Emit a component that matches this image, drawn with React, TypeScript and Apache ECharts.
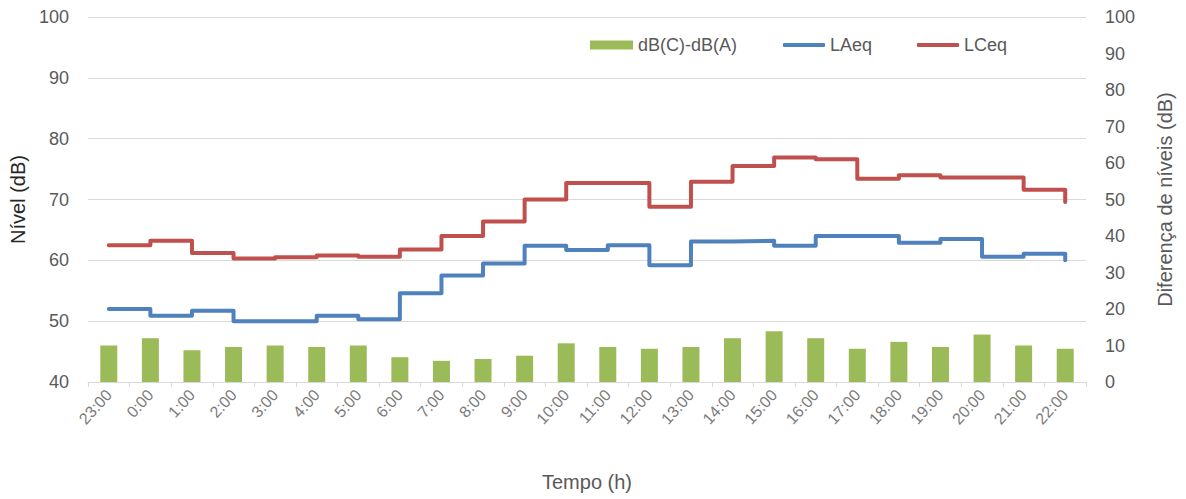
import React, { useEffect, useRef } from "react";
import * as echarts from "echarts";

const categories = ["23:00", "0:00", "1:00", "2:00", "3:00", "4:00", "5:00", "6:00", "7:00", "8:00", "9:00", "10:00", "11:00", "12:00", "13:00", "14:00", "15:00", "16:00", "17:00", "18:00", "19:00", "20:00", "21:00", "22:00"];
const diffValues = [10.0, 12.0, 8.7, 9.6, 10.0, 9.6, 10.0, 6.8, 5.8, 6.3, 7.2, 10.6, 9.6, 9.1, 9.6, 12.0, 13.9, 12.0, 9.1, 11.0, 9.6, 13.0, 10.0, 9.1];
const laeqValues = [52.0, 50.9, 51.7, 50.0, 50.0, 50.9, 50.3, 54.6, 57.5, 59.5, 62.4, 61.7, 62.5, 59.2, 63.1, 63.2, 62.4, 64.0, 64.0, 62.9, 63.5, 60.6, 61.1, 60.0];
const lceqValues = [62.5, 63.2, 61.2, 60.3, 60.5, 60.8, 60.6, 61.8, 64.0, 66.4, 70.0, 72.7, 72.7, 68.8, 72.9, 75.5, 76.9, 76.6, 73.4, 74.0, 73.6, 73.6, 71.6, 69.6];

const FONT = "'Liberation Sans', 'DejaVu Sans', sans-serif";
const TXT = "#595959";
const GRID = "#d9d9d9";

export default function App() {
  const ref = useRef<HTMLDivElement>(null);
  useEffect(() => {
    if (!ref.current) return;
    const chart = echarts.init(ref.current, null, { renderer: "svg" });
    const legendText = { color: TXT, fontSize: 18, fontFamily: FONT };
    chart.setOption({
      animation: false,
      textStyle: { fontFamily: FONT },
      grid: { left: 88, right: 100, top: 17, bottom: 117, containLabel: false },
      legend: [
        { data: [{ name: "dB(C)-dB(A)", icon: "rect" }], left: 590, top: 36, itemWidth: 43, itemHeight: 9, textStyle: legendText, padding: 0 },
        { data: [{ name: "LAeq", icon: "roundRect" }], left: 783, top: 36, itemWidth: 42, itemHeight: 4, textStyle: legendText, padding: 0 },
        { data: [{ name: "LCeq", icon: "roundRect" }], left: 917, top: 36, itemWidth: 42, itemHeight: 4, textStyle: legendText, padding: 0 },
      ],
      xAxis: {
        type: "category",
        data: categories,
        boundaryGap: true,
        name: "Tempo (h)",
        nameLocation: "middle",
        nameGap: 90,
        nameTextStyle: { color: TXT, fontSize: 20, fontFamily: FONT },
        axisLine: { lineStyle: { color: GRID, width: 1 } },
        axisTick: { show: true, length: 5, lineStyle: { color: GRID } },
        axisLabel: { rotate: 48, color: "#7a7a7a", fontSize: 16, margin: 10, fontFamily: FONT },
      },
      yAxis: [
        {
          type: "value",
          min: 40,
          max: 100,
          interval: 10,
          name: "Nível (dB)",
          nameLocation: "middle",
          nameGap: 57,
          nameTextStyle: { color: "#262626", fontSize: 20, fontFamily: FONT },
          axisLine: { show: false },
          axisTick: { show: false },
          axisLabel: { color: TXT, fontSize: 18, margin: 19, fontFamily: FONT },
          splitLine: { lineStyle: { color: GRID, width: 1 } },
        },
        {
          type: "value",
          min: 0,
          max: 100,
          interval: 10,
          name: "Diferença de níveis (dB)",
          nameLocation: "middle",
          nameGap: 69,
          nameTextStyle: { color: TXT, fontSize: 20, fontFamily: FONT },
          axisLine: { show: false },
          axisTick: { show: false },
          axisLabel: { color: TXT, fontSize: 18, margin: 19, fontFamily: FONT },
          splitLine: { show: false },
        },
      ],
      series: [
        {
          name: "dB(C)-dB(A)",
          type: "bar",
          yAxisIndex: 1,
          data: diffValues,
          barWidth: 17,
          itemStyle: { color: "#9bbb59" },
        },
        {
          name: "LAeq",
          type: "line",
          yAxisIndex: 0,
          step: "end",
          data: laeqValues,
          symbol: "none",
          itemStyle: { color: "#4f81bd" },
          lineStyle: { color: "#4f81bd", width: 4, cap: "round", join: "round" },
        },
        {
          name: "LCeq",
          type: "line",
          yAxisIndex: 0,
          step: "end",
          data: lceqValues,
          symbol: "none",
          itemStyle: { color: "#c0504d" },
          lineStyle: { color: "#c0504d", width: 4, cap: "round", join: "round" },
        },
      ],
    });
    return () => chart.dispose();
  }, []);
  return (
    <div
      ref={ref}
      style={{ position: "fixed", left: 0, top: 0, width: 1186, height: 499, background: "#fff" }}
    />
  );
}
